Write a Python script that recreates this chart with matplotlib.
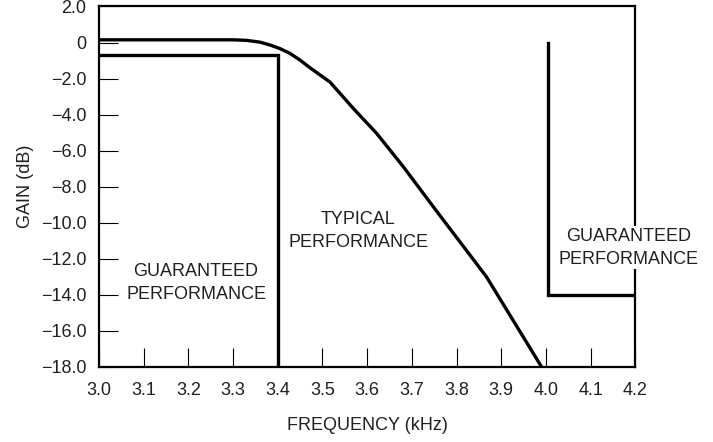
import matplotlib
matplotlib.use("Agg")
import matplotlib.pyplot as plt

# Typical performance curve
typ_freq = [3.0, 3.3, 3.33, 3.36, 3.383, 3.405, 3.427, 3.45, 3.472, 3.517, 3.569, 3.621, 3.681, 3.748, 3.867, 3.99]
typ_gain = [0.15, 0.15, 0.12, 0.02, -0.14, -0.34, -0.6, -0.98, -1.4, -2.2, -3.66, -5.04, -6.9, -9.12, -13.01, -18.0]

# Guaranteed passband limit
pass_freq = [3.0, 3.4, 3.4]
pass_gain = [-0.7, -0.7, -18.0]

# Guaranteed stopband limit
stop_freq = [4.005, 4.005, 4.2]
stop_gain = [0.0, -14.0, -14.0]

x_ticks = [3.0, 3.1, 3.2, 3.3, 3.4, 3.5, 3.6, 3.7, 3.8, 3.9, 4.0, 4.1, 4.2]
x_labels = ["3.0", "3.1", "3.2", "3.3", "3.4", "3.5", "3.6", "3.7", "3.8", "3.9", "4.0", "4.1", "4.2"]
y_ticks = [2, 0, -2, -4, -6, -8, -10, -12, -14, -16, -18]
y_labels = ["2.0", "0", "\u22122.0", "\u22124.0", "\u22126.0", "\u22128.0", "\u221210.0",
            "\u221212.0", "\u221214.0", "\u221216.0", "\u221218.0"]

TXT = "#231f20"
FS = 13
plt.rcParams['font.family'] = ['Liberation Sans', 'DejaVu Sans']

fig = plt.figure(figsize=(7.13, 4.42), dpi=100)
ax = fig.add_axes([0.1389, 0.1704, 0.891 - 0.1389, 0.9853 - 0.1704])

lw = 2.4
ax.plot(typ_freq, typ_gain, color="black", lw=lw, solid_joinstyle="round", zorder=3)
ax.plot(pass_freq, pass_gain, color="black", lw=lw, solid_joinstyle="miter", zorder=3)
ax.plot(stop_freq, stop_gain, color="black", lw=lw, solid_joinstyle="miter", zorder=3)

ax.set_xlim(3.0, 4.2)
ax.set_ylim(-18, 2)
ax.set_xticks(x_ticks)
ax.set_xticklabels(x_labels)
ax.set_yticks(y_ticks)
ax.set_yticklabels(y_labels)

for s in ax.spines.values():
    s.set_linewidth(1.6)
    s.set_color("black")
    s.set_zorder(2)

ax.tick_params(axis="both", direction="in", length=13.5, width=0.8, color="black",
               labelsize=FS, labelcolor=TXT)
ax.tick_params(axis="x", pad=11)
ax.tick_params(axis="y", pad=9)

ax.set_xlabel("FREQUENCY (kHz)", fontsize=FS, color=TXT, labelpad=13)
ax.set_ylabel("GAIN (dB)", fontsize=FS, color=TXT, labelpad=5)

ax.text(3.58, -10.45, "TYPICAL\nPERFORMANCE", ha="center", va="center",
        fontsize=FS, color=TXT, linespacing=1.45, zorder=4)
ax.text(3.217, -13.35, "GUARANTEED\nPERFORMANCE", ha="center", va="center",
        fontsize=FS, color=TXT, linespacing=1.45, zorder=4)
ax.text(4.185, -11.4, "GUARANTEED\nPERFORMANCE", ha="center", va="center",
        fontsize=FS, color=TXT, linespacing=1.45, zorder=5, clip_on=False,
        bbox=dict(facecolor="white", edgecolor="none", pad=1))

fig.savefig("out.png", dpi=100)
